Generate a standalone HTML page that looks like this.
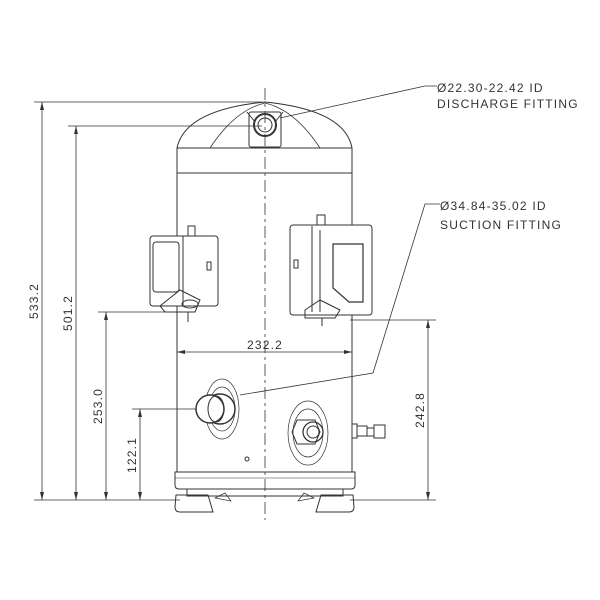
<!DOCTYPE html>
<html><head><style>body{margin:0;background:#fff}svg{display:block}
text{font-family:"Liberation Sans",sans-serif;font-size:12px;fill:#333;stroke:none;letter-spacing:1.2px}</style></head>
<body>
<svg width="600" height="600" viewBox="0 0 600 600" xmlns="http://www.w3.org/2000/svg" fill="none" stroke="#333" stroke-width="1">
<g stroke-width="0.8">
<line x1="34" y1="102" x2="262" y2="102"/>
<line x1="68" y1="126" x2="262" y2="126"/>
<line x1="98" y1="312" x2="185" y2="312"/>
<line x1="132" y1="409" x2="200" y2="409"/>
<line x1="34" y1="500" x2="180" y2="500"/>
<line x1="350" y1="320" x2="436" y2="320"/>
<line x1="350" y1="500" x2="436" y2="500"/>
<line x1="42" y1="102" x2="42" y2="500"/>
<line x1="76" y1="126" x2="76" y2="500"/>
<line x1="106" y1="312" x2="106" y2="500"/>
<line x1="140" y1="409" x2="140" y2="500"/>
<line x1="428" y1="320" x2="428" y2="500"/>
<line x1="177" y1="352" x2="352" y2="352"/>
</g>
<g fill="#333" stroke="none">
<path d="M42 102l-2 8h4z"/><path d="M42 500l-2 -8h4z"/>
<path d="M76 126l-2 8h4z"/><path d="M76 500l-2 -8h4z"/>
<path d="M106 312l-2 8h4z"/><path d="M106 500l-2 -8h4z"/>
<path d="M140 409l-2 8h4z"/><path d="M140 500l-2 -8h4z"/>
<path d="M428 320l-2 8h4z"/><path d="M428 500l-2 -8h4z"/>
<path d="M177 352l8 -2v4z"/><path d="M352 352l-8 -2v4z"/>
</g>
<text transform="translate(38 301) rotate(-90)" text-anchor="middle">533.2</text>
<text transform="translate(72 313) rotate(-90)" text-anchor="middle">501.2</text>
<text transform="translate(102 406) rotate(-90)" text-anchor="middle">253.0</text>
<text transform="translate(136 455) rotate(-90)" text-anchor="middle">122.1</text>
<text transform="translate(424 410) rotate(-90)" text-anchor="middle">242.8</text>
<text x="265" y="349" text-anchor="middle">232.2</text>
<line x1="265" y1="88" x2="265" y2="520" stroke-dasharray="12 4 3 4" stroke-width="0.8"/>
<path d="M177 173 V148 Q185 110 265 102 Q345 110 352 148 V173"/>
<line x1="177" y1="148" x2="352" y2="148"/>
<line x1="177" y1="173" x2="352" y2="173"/>
<path d="M210 148 Q235 110 265 103 Q295 110 320 148" stroke-width="0.8"/>
<path d="M247 112 L255 122 M283 112 L275 122" />
<rect x="249" y="112" width="32" height="35" rx="2"/>
<circle cx="265" cy="125" r="11" stroke-width="2"/>
<circle cx="265" cy="125" r="7"/>
<line x1="177" y1="173" x2="177" y2="472"/>
<line x1="352" y1="173" x2="352" y2="472"/>
<rect x="150" y="236" width="68" height="70" rx="3" fill="#fff"/>
<rect x="153" y="242" width="26" height="50" rx="3"/>
<line x1="183" y1="236" x2="183" y2="306"/>
<rect x="207" y="262" width="4" height="8"/>
<rect x="188" y="226" width="7" height="10"/>
<path d="M160 306 L180 290 L200 300 L195 312 L165 312 Z"/>
<ellipse cx="190" cy="304" rx="8" ry="4"/>
<line x1="188" y1="312" x2="188" y2="322"/>
<rect x="290" y="225" width="82" height="90" rx="3" fill="#fff"/>
<line x1="312" y1="226" x2="312" y2="312"/>
<line x1="320" y1="230" x2="320" y2="312"/>
<path d="M333 244 h30 v58 h-14 l-16 -14 z" stroke-width="1.2"/>
<rect x="294" y="260" width="4" height="8"/>
<rect x="317" y="215" width="8" height="10"/>
<path d="M305 310 L320 300 L340 310 L335 318 L305 318 Z"/>
<line x1="322" y1="318" x2="322" y2="326"/>
<ellipse cx="222" cy="409" rx="17" ry="30" stroke-width="0.7"/>
<ellipse cx="222" cy="409" rx="13" ry="22" stroke-width="0.7"/>
<circle cx="220" cy="409" r="15" stroke-width="1.5"/>
<circle cx="210" cy="409" r="14" stroke-width="1.5" fill="#fff"/>
<ellipse cx="216" cy="409" rx="8" ry="13"/>
<ellipse cx="308" cy="433" rx="20" ry="32" stroke-width="0.7"/>
<ellipse cx="308" cy="433" rx="15" ry="24" stroke-width="0.7"/>
<path d="M297 420 h18 l5 12 l-5 12 h-18 l-5 -12 z"/>
<circle cx="313" cy="432" r="10" stroke-width="1.3"/>
<circle cx="313" cy="432" r="6"/>
<circle cx="247" cy="459" r="2"/>
<rect x="352" y="424" width="5" height="14"/>
<rect x="357" y="426" width="10" height="10"/>
<rect x="367" y="428" width="7" height="8"/>
<rect x="374" y="425" width="11" height="13"/>
<path d="M175 472 h180 v13 q0 4 -4 4 h-172 q-4 0 -4 -4 z"/>
<line x1="175" y1="478" x2="355" y2="478" stroke-width="0.6"/>
<rect x="187" y="489" width="156" height="7"/>
<path d="M176 495 h32 l5 17 h-33 q-5 0 -5 -5 z"/>
<path d="M353 495 h-32 l-5 17 h33 q5 0 5 -5 z"/>
<path d="M215 498 l10 -5 l6 8 z M314 498 l-10 -5 l-6 8 z" stroke-width="0.7"/>
<polyline points="280,118 425,86 437,86" stroke-width="0.8"/>
<polyline points="240,395 373,373 425,204 440,204" stroke-width="0.8"/>
<text x="437" y="92">Ø22.30-22.42 ID</text>
<text x="437" y="108">DISCHARGE FITTING</text>
<text x="440" y="210">Ø34.84-35.02 ID</text>
<text x="440" y="229">SUCTION FITTING</text>
</svg>
</body></html>
